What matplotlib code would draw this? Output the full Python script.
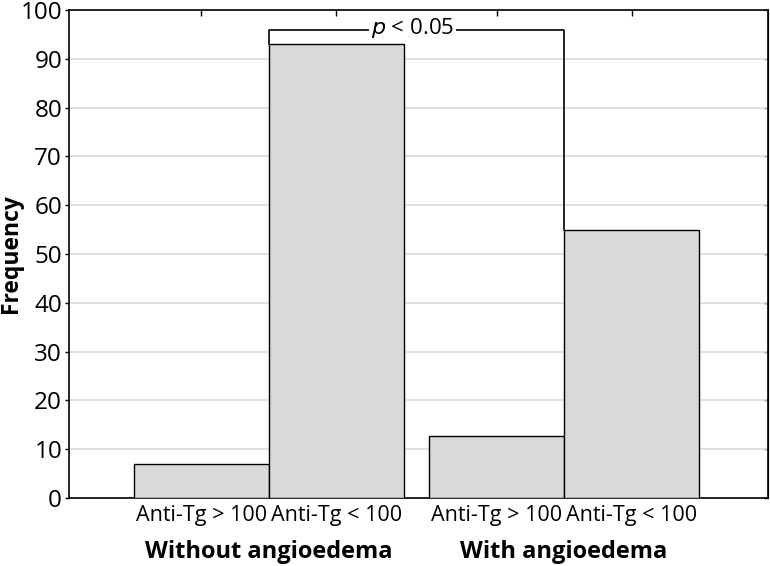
import matplotlib
matplotlib.use("Agg")
import matplotlib.pyplot as plt

plt.rcParams['font.family'] = ['Open Sans', 'DejaVu Sans']

groups = ["Without angioedema", "With angioedema"]
categories = ["Anti-Tg > 100", "Anti-Tg < 100", "Anti-Tg > 100", "Anti-Tg < 100"]
values = [7, 93, 12.7, 55]
y_ticks = [0, 10, 20, 30, 40, 50, 60, 70, 80, 90, 100]
p_text = "$\\it{p}$ < 0.05"
p_level = 96

fig = plt.figure(figsize=(7.7, 5.66), dpi=100)
ax = fig.add_axes([69/770, 68/566, 699/770, 488/566])

w = 1.0
centers = [0.981, 1.981, 3.167, 4.167]
ax.bar(centers, values, width=w, color="#d9d9d9", edgecolor="black", linewidth=1.0, zorder=3)
ax.set_xlim(0, 699/135)
ax.set_ylim(0, 100)
ax.set_yticks(y_ticks)
ax.yaxis.grid(True, color="#dcdcdc", linewidth=1.2, zorder=0)
ax.set_axisbelow(True)
ax.set_xticks(centers)
ax.set_xticklabels(categories, fontsize=15.5)
ax.tick_params(axis='y', labelsize=17.5, direction='out', length=3, width=1, pad=2)
ax.tick_params(axis='x', direction='in', bottom=False, top=True, length=4, width=1, pad=5)
for s in ax.spines.values():
    s.set_linewidth(1.2)

# inward ticks on the right
ax2 = ax.secondary_yaxis('right')
ax2.set_yticks(y_ticks)
ax2.tick_params(direction='in', length=3, width=1, labelright=False)

ax.set_ylabel("Frequency", fontsize=16.5, fontweight='bold')
ax.yaxis.set_label_coords(-0.066, 0.5)

# group labels
g_centers = [(centers[0] + centers[1]) / 2, (centers[2] + centers[3]) / 2]
for gc, g in zip(g_centers, groups):
    ax.text(gc, -0.11, g, transform=ax.get_xaxis_transform(), ha='center', va='center',
            fontsize=17, fontweight='bold')

# significance bracket
xl = centers[1] - w / 2
xr = centers[3] - w / 2
ax.plot([xl, xl, xr, xr], [values[1], p_level, p_level, values[3]], color='black', lw=1.2, zorder=4)
ax.text((xl + xr) / 2 - 0.03, p_level + 0.3, p_text, ha='center', va='center', fontsize=16,
        bbox=dict(facecolor='white', edgecolor='none', pad=1.5), zorder=5)

fig.savefig("out.png", dpi=100)
